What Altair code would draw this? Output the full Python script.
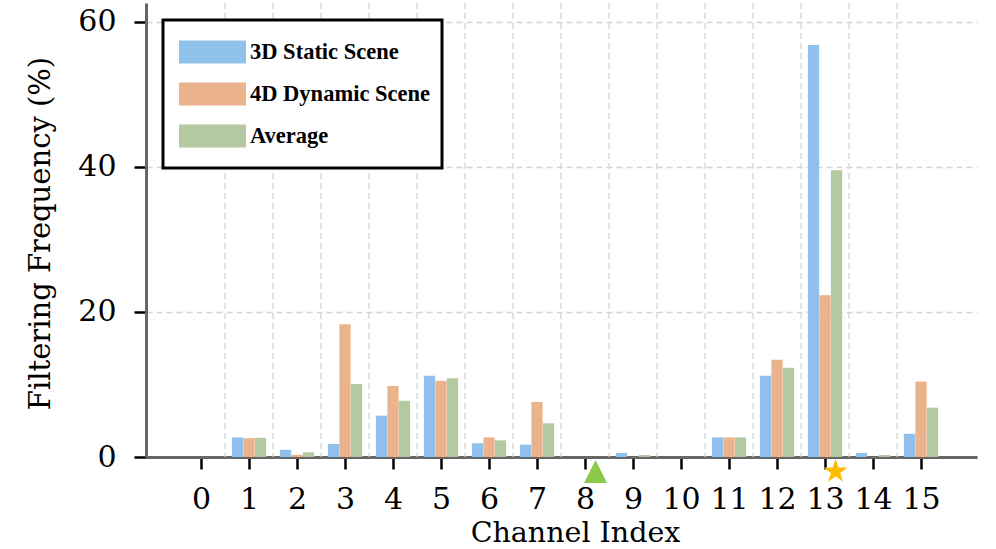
import altair as alt
import pandas as pd

# Filtering frequency (%) per channel for each scene type
channels = list(range(16))
static_3d = [0, 2.7, 1.0, 1.8, 5.7, 11.2, 1.9, 1.7, 0, 0.55, 0, 2.7, 11.2, 56.8, 0.55, 3.2]
dynamic_4d = [0, 2.6, 0.3, 18.3, 9.8, 10.5, 2.7, 7.6, 0, 0, 0, 2.7, 13.4, 22.3, 0, 10.4]
average = [0, 2.65, 0.65, 10.05, 7.75, 10.85, 2.3, 4.65, 0, 0.27, 0, 2.7, 12.3, 39.55, 0.27, 6.8]

series_names = ["3D Static Scene", "4D Dynamic Scene", "Average"]
series_colors = ["#8fc1ea", "#eab38e", "#b4c9a1"]
series_offsets = [-0.24, 0.0, 0.24]
bar_width = 0.235

# Highlighted channels marked under the axis (triangle and five-pointed star)
TRIANGLE = "M0,-1L1,1L-1,1Z"
STAR = ("M0,-1.1L0.247,-0.34L1.046,-0.34L0.399,0.13L0.647,0.89L0,0.42"
        "L-0.647,0.89L-0.399,0.13L-1.046,-0.34L-0.247,-0.34Z")
marker_channels = [8, 13]
marker_shapes = [TRIANGLE, STAR]
marker_colors = ["#8bc94a", "#ffbb00"]

rows = []
for name, off, vals in zip(series_names, series_offsets, [static_3d, dynamic_4d, average]):
    for c, v in zip(channels, vals):
        rows.append({"channel": c, "series": name, "value": v, "offset": off})
bars_df = pd.DataFrame(rows)

grid_df = pd.DataFrame({"boundary": [c + 0.5 for c in channels[:-1]]})
marker_df = pd.DataFrame({"channel": marker_channels, "shape": marker_shapes, "color": marker_colors})

x_scale = alt.Scale(domain=[-1.146, 16.166], nice=False, zero=False)
y_scale = alt.Scale(domain=[0, 62.6], nice=False)

serif = "DejaVu Serif"
grid_color = "#d4d4d4"

x_axis = alt.Axis(orient="bottom", values=channels, title="Channel Index", grid=False,
                  labelFont=serif, labelFontSize=30, labelColor="black",
                  labelPadding=15, labelFlush=False,
                  titleFont=serif, titleFontSize=28.5, titleFontWeight="normal",
                  titleColor="black", titlePadding=4, titleX=429,
                  tickSize=12, tickWidth=2.5, tickColor="black",
                  domainColor="#666666", domainWidth=3)
y_axis = alt.Axis(orient="left", values=[0, 20, 40, 60], title="Filtering Frequency (%)",
                  grid=True, gridColor=grid_color, gridDash=[6, 4], gridWidth=1.3,
                  labelFont=serif, labelFontSize=30, labelColor="black",
                  labelPadding=18,
                  titleFont=serif, titleFontSize=29, titleFontWeight="normal",
                  titleColor="black", titlePadding=22, titleY=230,
                  tickSize=12, tickWidth=2.5, tickColor="black",
                  domainColor="#666666", domainWidth=3)

bars = alt.Chart(bars_df).transform_calculate(
    x0=f"datum.channel + datum.offset - {bar_width / 2}",
    x1=f"datum.channel + datum.offset + {bar_width / 2}",
).mark_rect().encode(
    x=alt.X("x0:Q", scale=x_scale, axis=x_axis),
    x2="x1:Q",
    y=alt.Y("value:Q", scale=y_scale, axis=y_axis),
    y2=alt.datum(0),
    color=alt.Color("series:N",
                    scale=alt.Scale(domain=series_names, range=series_colors),
                    legend=alt.Legend(
                        title=None, orient="none", legendX=17, legendY=17,
                        symbolType="M-1,-0.343H1V0.343H-1Z", symbolSize=4489,
                        symbolStrokeWidth=0, symbolOpacity=1,
                        clipHeight=40, rowPadding=2,
                        symbolOffset=4, labelOffset=4, padding=12,
                        labelFont="Liberation Serif", labelFontWeight="bold",
                        labelFontSize=22.5, labelColor="black", labelLimit=400,
                        strokeColor="black", fillColor="white",
                    )),
)

vgrid = alt.Chart(grid_df).mark_rule(color=grid_color, strokeWidth=1.3, strokeDash=[6, 4]).encode(
    x=alt.X("boundary:Q", scale=x_scale, axis=x_axis),
)

markers = alt.Chart(marker_df).transform_calculate(
    xm="datum.channel + 0.22"
).mark_point(filled=True, opacity=1, size=529, strokeWidth=0).encode(
    x=alt.X("xm:Q", scale=x_scale, axis=x_axis),
    y=alt.datum(-2.0),
    shape=alt.Shape("shape:N", scale=None, legend=None),
    fill=alt.Fill("color:N", scale=None, legend=None),
)

chart = alt.layer(vgrid, bars, markers).resolve_scale(
    color="independent", fill="independent", shape="independent"
).properties(
    width=831, height=454,
    autosize=alt.AutoSizeParams(type="none"),
    padding={"left": 146, "top": 3, "right": 19, "bottom": 92},
    background="white",
).configure_view(stroke=None).configure_legend(strokeWidth=3)

chart.save("out.html", embed_options={"renderer": "svg", "actions": False})
